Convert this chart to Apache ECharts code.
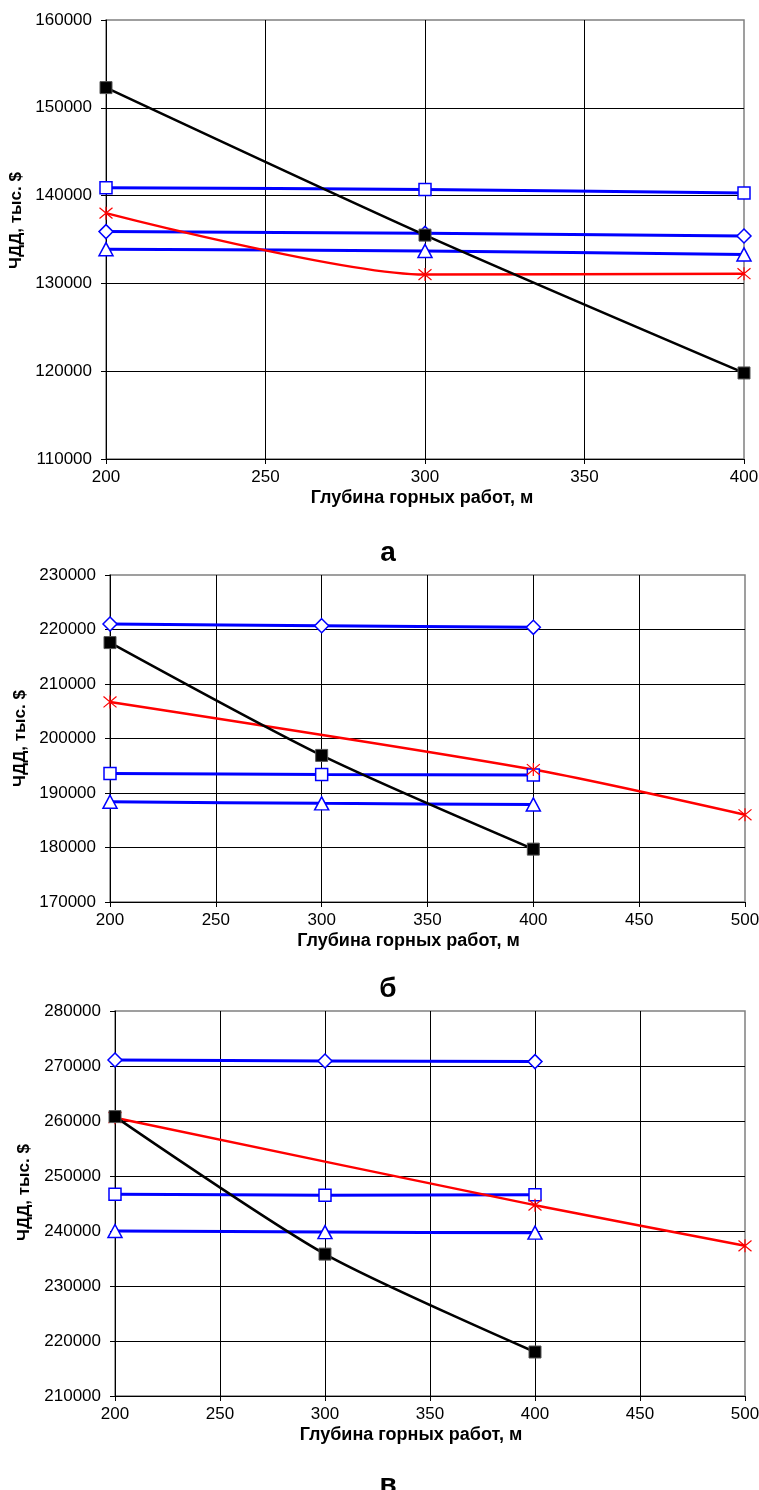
<!DOCTYPE html>
<html>
<head>
<meta charset="utf-8">
<script src="https://cdn.jsdelivr.net/npm/echarts@6/dist/echarts.min.js"></script>
<style>
  html, body { margin: 0; padding: 0; background: #fff; }
  #chart { width: 759px; height: 1490px; }
</style>
</head>
<body>
<div id="chart"></div>
<script>
// глубина горных работ, м
const depth = [200, 300, 400]
const depthRed = [200, 400, 500]

// а
const aBlack = [152300, 135500, 119800]
const aSquare = [140900, 140700, 140300]
const aDiamond = [135900, 135700, 135400]
const aTriangle = [133900, 133700, 133300]
const aStar = [138000, 131000, 131100]

// б
const bBlack = [217600, 196900, 179700]
const bSquare = [193600, 193400, 193300]
const bDiamond = [221000, 220700, 220400]
const bTriangle = [188400, 188100, 187900]
const bStar = [206700, 194300, 186000]

// в
const cBlack = [260800, 235800, 218000]
const cSquare = [246700, 246500, 246600]
const cDiamond = [271100, 270900, 270800]
const cTriangle = [240000, 239800, 239700]
const cStar = [260600, 244700, 237300]

const xTitle = 'Глубина горных работ, м'
const yTitle = 'ЧДД, тыс. $'
const panels = ['а', 'б', 'в']

const FONT = "'Liberation Sans', Arial, sans-serif"
const STAR = 'path://M0,0L10,10M10,0L0,10M5,-1L5,11'

function zip(xs, ys) {
  return xs.map((x, i) => [x, ys[i]])
}

function xAxisFor(gridIndex, max, shift) {
  return {
    type: 'value', gridIndex: gridIndex, min: 200, max: max, interval: 50,
    name: xTitle, nameLocation: 'middle', nameGap: 30,
    nameTextStyle: { fontFamily: FONT, fontSize: 18, fontWeight: 'bold', color: '#000', padding: [0, shift, 0, 0] },
    axisLine: { lineStyle: { color: '#000', width: 1 } },
    axisTick: { show: true, length: 5, lineStyle: { color: '#000' } },
    axisLabel: { fontFamily: FONT, fontSize: 17, color: '#000', margin: 10 },
    splitLine: { show: true, showMaxLine: false, lineStyle: { color: '#000', width: 1 } }
  }
}

function yAxisFor(gridIndex, min, max, gap, shift) {
  return {
    type: 'value', gridIndex: gridIndex, min: min, max: max, interval: 10000,
    name: yTitle, nameLocation: 'middle', nameGap: gap,
    nameTextStyle: { fontFamily: FONT, fontSize: 17, fontWeight: 'bold', color: '#000', padding: [0, 0, 0, shift] },
    axisLine: { show: true, lineStyle: { color: '#000', width: 1 } },
    axisTick: { show: true, length: 5, lineStyle: { color: '#000' } },
    axisLabel: { fontFamily: FONT, fontSize: 17, color: '#000', margin: 14, formatter: v => String(v) },
    splitLine: { show: true, showMaxLine: false, lineStyle: { color: '#000', width: 1 } }
  }
}

function seriesFor(idx, sq, dia, tri, star, black) {
  const base = { type: 'line', xAxisIndex: idx, yAxisIndex: idx, smooth: 0.25, z: 3 }
  return [
    Object.assign({}, base, {
      name: 'square', data: zip(depth, sq), symbol: 'rect', symbolSize: 12,
      lineStyle: { color: '#0000ff', width: 3 },
      itemStyle: { color: '#fff', borderColor: '#0000ff', borderWidth: 1.5 }
    }),
    Object.assign({}, base, {
      name: 'diamond', data: zip(depth, dia), symbol: 'diamond', symbolSize: [14, 14],
      lineStyle: { color: '#0000ff', width: 3 },
      itemStyle: { color: '#fff', borderColor: '#0000ff', borderWidth: 1.5 }
    }),
    Object.assign({}, base, {
      name: 'triangle', data: zip(depth, tri), symbol: 'triangle', symbolSize: [14, 13],
      lineStyle: { color: '#0000ff', width: 3 },
      itemStyle: { color: '#fff', borderColor: '#0000ff', borderWidth: 1.5 }
    }),
    Object.assign({}, base, {
      name: 'star', data: zip(idx === 0 ? depth : depthRed, star), symbol: STAR, symbolSize: 13,
      lineStyle: { color: '#ff0000', width: 2.5 },
      itemStyle: { color: '#ff0000', borderColor: '#ff0000', borderWidth: 1.2 }
    }),
    Object.assign({}, base, {
      name: 'black', data: zip(depth, black), symbol: 'rect', symbolSize: 12, z: 4,
      lineStyle: { color: '#000', width: 2.5 },
      itemStyle: { color: '#000', borderColor: '#555', borderWidth: 1 }
    })
  ]
}

const panelStyle = { fontFamily: FONT, fontSize: 28, fontWeight: 'bold', color: '#000' }

const chart = echarts.init(document.getElementById('chart'))
chart.setOption({
  animation: false,
  backgroundColor: '#fff',
  title: [
    { text: panels[0], left: 383, top: 534, textAlign: 'center', textStyle: panelStyle },
    { text: panels[1], left: 383, top: 970, textAlign: 'center', textStyle: panelStyle },
    { text: panels[2], left: 383, top: 1466, textAlign: 'center', textStyle: panelStyle }
  ],
  grid: [
    { left: 106, top: 20, width: 638, height: 439, show: true, borderColor: '#808080', borderWidth: 1.5, outerBoundsMode: 'none', containLabel: false },
    { left: 110, top: 575, width: 635, height: 327, show: true, borderColor: '#808080', borderWidth: 1.5, outerBoundsMode: 'none', containLabel: false },
    { left: 115, top: 1011, width: 630, height: 385, show: true, borderColor: '#808080', borderWidth: 1.5, outerBoundsMode: 'none', containLabel: false }
  ],
  xAxis: [
    xAxisFor(0, 400, 6),
    xAxisFor(1, 500, 38),
    xAxisFor(2, 500, 38)
  ],
  yAxis: [
    yAxisFor(0, 110000, 160000, 69, 38),
    yAxisFor(1, 170000, 230000, 71, 0),
    yAxisFor(2, 210000, 280000, 82, 22)
  ],
  series: [].concat(
    seriesFor(0, aSquare, aDiamond, aTriangle, aStar, aBlack),
    seriesFor(1, bSquare, bDiamond, bTriangle, bStar, bBlack),
    seriesFor(2, cSquare, cDiamond, cTriangle, cStar, cBlack)
  )
})
</script>
</body>
</html>
